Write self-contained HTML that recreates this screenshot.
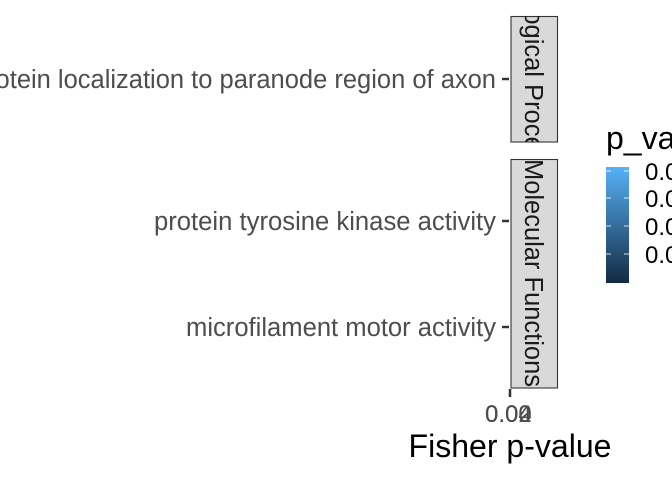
<!DOCTYPE html>
<html><head><style>
html,body{margin:0;padding:0;background:#fff;}
svg{display:block;font-family:"Liberation Sans",sans-serif;}
</style></head><body>
<svg width="672" height="480" xmlns="http://www.w3.org/2000/svg">
<defs>
<linearGradient id="g" x1="0" y1="1" x2="0" y2="0">
<stop offset="0" stop-color="#132b43"/>
<stop offset="1" stop-color="#56b1f7"/>
</linearGradient>
<clipPath id="c1"><rect x="511" y="16" width="47" height="126"/></clipPath>
<clipPath id="c2"><rect x="511" y="159" width="47" height="229"/></clipPath>
</defs>
<g font-size="25.5" fill="#4d4d4d" text-anchor="end">
<text x="496" y="88">protein localization to paranode region of axon</text>
<text x="496" y="230" textLength="342" lengthAdjust="spacingAndGlyphs">protein tyrosine kinase activity</text>
<text x="496" y="336" textLength="310" lengthAdjust="spacingAndGlyphs">microfilament motor activity</text>
</g>
<g stroke="#333" stroke-width="2.5">
<line x1="502" y1="79" x2="509" y2="79"/>
<line x1="502" y1="221" x2="509" y2="221"/>
<line x1="502" y1="327" x2="509" y2="327"/>
<line x1="510" y1="389" x2="510" y2="397"/>
</g>
<rect x="511" y="16.5" width="46.5" height="125.5" fill="#d9d9d9" stroke="#333" stroke-width="1.1"/>
<rect x="511" y="159.5" width="46.5" height="228.5" fill="#d9d9d9" stroke="#333" stroke-width="1.1"/>
<g font-size="25.5" fill="#1a1a1a" text-anchor="middle">
<g clip-path="url(#c1)"><text transform="translate(525,72) rotate(90)">Biological Process</text></g>
<g clip-path="url(#c2)"><text transform="translate(525,273) rotate(90)" textLength="228" lengthAdjust="spacingAndGlyphs">Molecular Functions</text></g>
</g>
<g font-size="24" fill="#4d4d4d">
<text x="485" y="422">0.00</text>
<text x="485" y="422">0.02</text>
<text x="485" y="422">0.04</text>
</g>
<text x="510" y="457" font-size="32" text-anchor="middle" fill="#000" textLength="203" lengthAdjust="spacingAndGlyphs">Fisher p-value</text>
<text x="606" y="149" font-size="32" fill="#000">p_value</text>
<rect x="606" y="167" width="23" height="116" fill="url(#g)"/>
<g stroke="#fff" stroke-width="1" opacity="0.8">
<line x1="606" y1="171" x2="611" y2="171"/><line x1="624" y1="171" x2="629" y2="171"/>
<line x1="606" y1="198" x2="611" y2="198"/><line x1="624" y1="198" x2="629" y2="198"/>
<line x1="606" y1="226" x2="611" y2="226"/><line x1="624" y1="226" x2="629" y2="226"/>
<line x1="606" y1="254" x2="611" y2="254"/><line x1="624" y1="254" x2="629" y2="254"/>
</g>
<g font-size="24" fill="#000">
<text x="645" y="180">0.0</text>
<text x="645" y="207">0.0</text>
<text x="645" y="235">0.0</text>
<text x="645" y="263">0.0</text>
</g>
</svg>
</body></html>
